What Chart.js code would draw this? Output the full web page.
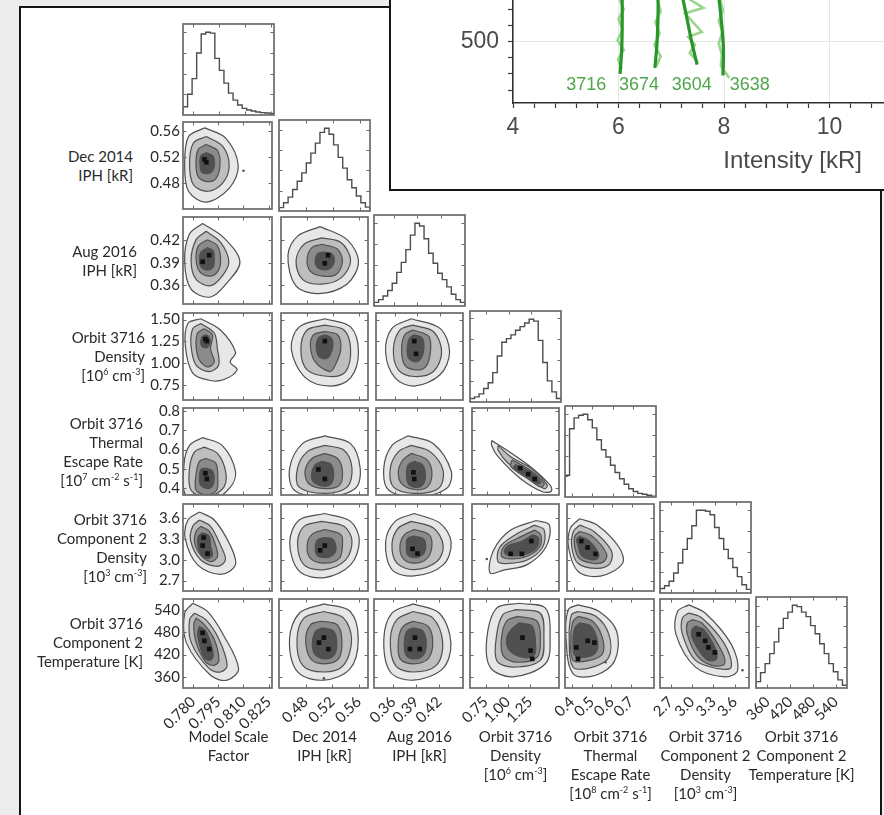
<!DOCTYPE html>
<html>
<head>
<meta charset="utf-8">
<title>Posterior corner plot</title>
<script src="https://cdn.jsdelivr.net/npm/chart.js@4.4.1/dist/chart.umd.min.js"></script>
<style>
  html, body { margin:0; padding:0; width:884px; height:815px; overflow:hidden; background:#ededed; }
  #sheet { position:absolute; left:19px; top:6px; width:863px; height:840px; background:#fff; border:2px solid #151515; box-sizing:border-box; }
  canvas.panel { position:absolute; z-index:1; }
  .vlabel { position:absolute; z-index:2; font-family:Lato, 'Open Sans', sans-serif; font-size:15px; line-height:19px; color:#2a2a2a; white-space:nowrap; }
  .vlabel sup { font-size:9px; line-height:0; vertical-align:6px; }
  #inset { position:absolute; left:389px; top:-10px; width:520px; height:201px; background:#fff; border:2px solid #151515; box-sizing:border-box; z-index:5; }
  #insetChart { position:absolute; left:391px; top:-59px; z-index:6; }
  #insetTitle { position:absolute; z-index:6; right:22px; top:146px; font-family:'Liberation Sans', Arial, sans-serif; font-size:24px; color:#4a4a4a; }
</style>
</head>
<body>
<div id="sheet"></div>
<div id="inset"></div>
<canvas id="insetChart" width="544" height="247" style="width:544px;height:247px"></canvas>
<div id="insetTitle">Intensity [kR]</div>
<script>
// ---------------- parameters of the fit ----------------
const titleY = [null,
  ['Dec 2014', 'IPH [kR]'],
  ['Aug 2016', 'IPH [kR]'],
  ['Orbit 3716', 'Density', '[10<sup>6</sup> cm<sup>-3</sup>]'],
  ['Orbit 3716', 'Thermal', 'Escape Rate', '[10<sup>7</sup> cm<sup>-2</sup> s<sup>-1</sup>]'],
  ['Orbit 3716', 'Component 2', 'Density', '[10<sup>3</sup> cm<sup>-3</sup>]'],
  ['Orbit 3716', 'Component 2', 'Temperature [K]']];
const titleX = [
  ['Model Scale', 'Factor'],
  ['Dec 2014', 'IPH [kR]'],
  ['Aug 2016', 'IPH [kR]'],
  ['Orbit 3716', 'Density', '[10<sup>6</sup> cm<sup>-3</sup>]'],
  ['Orbit 3716', 'Thermal', 'Escape Rate', '[10<sup>8</sup> cm<sup>-2</sup> s<sup>-1</sup>]'],
  ['Orbit 3716', 'Component 2', 'Density', '[10<sup>3</sup> cm<sup>-3</sup>]'],
  ['Orbit 3716', 'Component 2', 'Temperature [K]']];

// axis limits and tick values of each parameter
const axisMin = [0.774, 0.44, 0.335, 0.575, 0.365, 2.55, 330];
const axisMax = [0.827, 0.574, 0.451, 1.575, 0.815, 3.80, 570];
const xTickVals = [[0.780, 0.795, 0.810, 0.825], [0.48, 0.52, 0.56], [0.36, 0.39, 0.42],
  [0.75, 1.00, 1.25], [0.4, 0.5, 0.6, 0.7], [2.7, 3.0, 3.3, 3.6], [360, 420, 480, 540]];
const yTickVals = [[], [0.48, 0.52, 0.56], [0.36, 0.39, 0.42],
  [0.75, 1.00, 1.25, 1.50], [0.4, 0.5, 0.6, 0.7, 0.8], [2.7, 3.0, 3.3, 3.6], [360, 420, 480, 540]];
const tickDecimals = [3, 2, 2, 2, 1, 1, 0];

// ---------------- 1-D marginal histograms (20 bins, sample counts) ----------------
const histScaleFactor  = [99, 250, 440, 750, 980, 1000, 990, 685, 540, 385, 265, 180, 120, 80, 60, 48, 36, 29, 24, 20];
const histDec2014      = [41, 102, 171, 264, 366, 469, 591, 713, 836, 968, 1019, 946, 814, 660, 528, 385, 286, 184, 102, 48];
const histAug2016      = [44, 77, 121, 187, 275, 407, 528, 682, 858, 1001, 968, 814, 638, 517, 396, 319, 231, 143, 77, 44];
const histDensity      = [41, 61, 97, 162, 231, 352, 550, 715, 759, 803, 858, 902, 946, 990, 968, 737, 473, 253, 121, 41];
const histEscape       = [264, 825, 957, 990, 1001, 935, 836, 693, 572, 484, 385, 297, 220, 154, 99, 66, 44, 33, 22, 11];
const histComp2Density = [55, 88, 143, 242, 363, 528, 660, 814, 1001, 1001, 990, 946, 792, 660, 528, 418, 308, 198, 99, 44];
const histComp2Temp    = [77, 187, 297, 418, 561, 726, 847, 924, 1007, 990, 924, 869, 759, 660, 539, 418, 297, 198, 99, 33];

// ---------------- 2-D posteriors: density contours (outer -> inner), as x,y pairs ----------------
const lev_1_0 = [
  [.787,.565, .7994,.5492, .8069,.507, .8016,.4722, .7879,.4507, .7773,.4673, .775,.507, .7773,.5516],
  [.7879,.5516, .7976,.5367, .8015,.507, .7976,.4797, .7888,.4673, .7802,.4773, .7779,.5097, .7802,.5417],
  [.7879,.5393, .7947,.5294, .796,.507, .7937,.4872, .7888,.4822, .7831,.4896, .7817,.5097, .7831,.5318],
  [.7879,.5268, .7918,.5219, .7928,.512, .7918,.4995, .7888,.4945, .785,.4971, .7841,.5097, .7846,.5219]];
const core_1_0 = [.7879,.512, .7868,.5165];
const stray_1_0 = [.810,.499];

const lev_2_0 = [
  [.7857,.4424, .7984,.4232, .8079,.3913, .8003,.3635, .7904,.3443, .7788,.3547, .775,.3913, .7777,.4278],
  [.7878,.4319, .7963,.4174, .8013,.3913, .7973,.3721, .7904,.3594, .7818,.3678, .7788,.393, .7818,.4208],
  [.7886,.4208, .7945,.4127, .7964,.3913, .7941,.3764, .7896,.3721, .7838,.3785, .7818,.3953, .7832,.4127],
  [.7886,.4104, .7921,.4058, .7926,.3953, .7921,.3849, .7886,.3802, .7846,.3849, .7838,.393, .7846,.404]];
const core_2_0 = [.7857,.3913, .7896,.400];

const lev_2_1 = [
  [.5003,.4382, .5418,.4208, .5593,.3913, .5418,.3617, .4976,.3489, .4628,.3594, .4507,.40, .4655,.4255],
  [.5026,.4232, .5325,.4169, .5472,.393, .5325,.3698, .5026,.3614, .473,.3678, .4632,.393, .4755,.4147],
  [.5026,.4147, .5271,.4081, .5346,.3913, .5247,.3742, .505,.3721, .4853,.3785, .4802,.3953, .4878,.4104],
  [.507,.4041, .5177,.4023, .5223,.3933, .5177,.3837, .51,.3806, .4976,.3826, .4927,.3913, .4967,.4023]];
const core_2_1 = [.5074,.3892, .5124,.400];

const lev_3_0 = [
  [.7846,1.509, .7963,1.38, .8053,1.125, .8021,1.012, .8062,.921, .7984,.81, .7904,.799, .7798,.885, .7754,1.195, .7769,1.455],
  [.7846,1.455, .7926,1.345, .7945,1.16, .7952,.975, .7896,.902, .7818,.975, .7788,1.195, .7798,1.395],
  [.7867,1.395, .7915,1.325, .7904,1.16, .7926,1.012, .7886,.955, .7838,1.031, .7818,1.195, .7827,1.345],
  [.7876,1.325, .7894,1.305, .7902,1.252, .7894,1.195, .7876,1.175, .7851,1.195, .7846,1.252, .7855,1.305]];
const core_3_0 = [.7882,1.252, .7873,1.275];

const lev_3_1 = [
  [.5075,1.509, .5472,1.415, .5593,1.125, .5472,.829, .5173,.735, .4779,.829, .4558,1.159, .4681,1.415],
  [.5075,1.435, .537,1.38, .5472,1.16, .5396,.902, .515,.845, .4802,.921, .4706,1.16, .4802,1.38],
  [.5075,1.362, .5271,1.325, .5321,1.16, .5223,.957, .515,.902, .4927,1.012, .4853,1.195, .4903,1.325],
  [.5075,1.325, .5173,1.288, .5199,1.195, .515,1.085, .5075,1.049, .4976,1.085, .4941,1.195, .4976,1.288]];
const core_3_1 = [.5075,1.252];

const lev_3_2 = [
  [.3819,1.509, .4203,1.398, .4331,1.123, .4203,.865, .386,.735, .3605,.829, .3478,1.123, .3563,1.398],
  [.3841,1.435, .4116,1.362, .4225,1.123, .4116,.902, .386,.845, .3648,.921, .3582,1.16, .367,1.38],
  [.3841,1.38, .4054,1.305, .4075,1.123, .4011,.957, .3884,.921, .3733,.975, .3691,1.16, .3733,1.325],
  [.386,1.325, .3968,1.288, .3988,1.16, .3947,1.049, .3872,1.012, .3779,1.065, .3768,1.195, .3798,1.288]];
const core_3_2 = [.386,1.252, .3884,1.105];

const lev_4_0 = [
  [.7857,.662, .7973,.6215, .8052,.4892, .8022,.4055, .7904,.3335, .776,.356, .7746,.5225, .7779,.6215],
  [.7867,.6125, .7945,.5801, .7993,.4892, .7984,.4055, .7886,.356, .7788,.3898, .7779,.5045, .7809,.5882],
  [.7876,.554, .7935,.5306, .7947,.455, .794,.3898, .7886,.365, .7818,.3898, .7818,.473, .7838,.5387],
  [.7876,.5045, .7915,.4892, .7926,.455, .7915,.41, .7886,.3983, .7846,.4145, .7838,.4478, .7846,.4973]];
const core_4_0 = [.7882,.4478, .7873,.4775];

const lev_4_1 = [
  [.5075,.671, .5472,.6305, .5619,.5045, .5543,.3983, .5075,.356, .4606,.3898, .4534,.5045, .473,.6305],
  [.5075,.6215, .537,.5968, .5493,.5045, .5418,.4055, .5075,.3731, .4681,.4055, .4655,.5045, .4802,.5882],
  [.5075,.5801, .5271,.554, .5346,.4892, .5298,.4145, .5075,.3983, .4829,.4235, .477,.4892, .4878,.554],
  [.503,.5387, .5173,.5225, .5213,.464, .5173,.4235, .5075,.41, .4903,.4312, .4869,.473, .4927,.5225]];
const core_4_1 = [.4976,.4973, .5075,.4478];

const lev_4_2 = [
  [.3779,.671, .4116,.6305, .4352,.4892, .429,.3983, .3904,.356, .3521,.3898, .3454,.5045, .3563,.6215],
  [.3819,.6215, .4075,.5882, .4246,.4892, .4182,.3983, .386,.3731, .3584,.4055, .3541,.5045, .3648,.5882],
  [.3819,.5801, .4032,.5468, .4096,.473, .4032,.4055, .386,.3934, .3691,.4235, .3648,.4892, .371,.5468],
  [.386,.5387, .3968,.5225, .4011,.464, .3968,.4145, .3872,.4046, .3779,.4235, .3756,.473, .3779,.5225]];
const core_4_2 = [.386,.4478, .3849,.482];

const lev_4_3 = [
  [.801,.6463, .947,.6049, 1.239,.5135, 1.475,.4145, 1.487,.3848, 1.385,.3817, 1.13,.4505, .875,.563, .801,.6215],
  [.875,.6215, 1.02,.563, 1.275,.4973, 1.44,.4145, 1.405,.3983, 1.239,.4478, .985,.5315, .875,.5968],
  [1.035,.5468, 1.261,.4892, 1.405,.4235, 1.365,.4064, 1.221,.4478, 1.02,.5135],
  [1.075,.5225, 1.261,.4807, 1.367,.4312, 1.33,.423, 1.221,.4559, 1.055,.5045]];
const core_4_3 = [1.13,.5045, 1.221,.473, 1.295,.4478];

const lev_5_0 = [
  [.7838,3.685, .7926,3.57, .8022,3.203, .8052,2.925, .7964,2.788, .7827,2.925, .7754,3.295, .7769,3.57],
  [.7838,3.57, .7904,3.479, .7964,3.203, .7993,2.996, .7945,2.904, .7846,2.996, .7785,3.273, .7798,3.479],
  [.7846,3.479, .7896,3.409, .7935,3.203, .7945,3.041, .7904,2.973, .7846,3.065, .7809,3.25, .7818,3.409],
  [.7857,3.388, .7896,3.338, .7904,3.203, .7915,3.065, .7886,3.019, .7846,3.088, .7827,3.225, .7832,3.338]];
const core_5_0 = [.7857,3.203, .7886,3.088, .7863,3.318];

const lev_5_1 = [
  [.5075,3.663, .5472,3.55, .5606,3.271, .5472,2.925, .5075,2.743, .4681,2.835, .4534,3.25, .4681,3.57],
  [.5026,3.55, .537,3.479, .5493,3.271, .5396,2.996, .5075,2.858, .4755,2.925, .4655,3.25, .4755,3.479],
  [.5075,3.433, .5321,3.363, .5346,3.203, .5298,3.019, .5075,2.95, .4853,3.019, .4802,3.203, .4878,3.363],
  [.5075,3.318, .5199,3.295, .5248,3.156, .5199,3.065, .5075,3.028, .4952,3.065, .4927,3.18, .4963,3.285]];
const core_5_1 = [.5075,3.203, .5003,3.134];

const lev_5_2 = [
  [.386,3.663, .4203,3.525, .4352,3.25, .4246,2.925, .386,2.766, .3563,2.858, .3478,3.25, .3605,3.55],
  [.3819,3.55, .4116,3.455, .4246,3.203, .4162,2.973, .386,2.858, .3628,2.95, .3563,3.225, .3648,3.455],
  [.386,3.433, .4054,3.363, .4096,3.203, .4032,3.019, .386,2.95, .371,3.019, .367,3.203, .3733,3.363],
  [.386,3.34, .3988,3.295, .4011,3.166, .3968,3.065, .386,3.028, .3768,3.075, .3756,3.203, .3768,3.304]];
const core_5_2 = [.3837,3.156, .3904,3.088];

const lev_5_3 = [
  [1.312,3.563, 1.465,3.496, 1.422,3.175, 1.203,2.925, .947,2.854, .783,2.808, .82,3.129, 1.02,3.425],
  [1.295,3.496, 1.405,3.425, 1.385,3.175, 1.203,2.991, .985,2.945, .875,2.969, .892,3.175, 1.075,3.359],
  [1.295,3.425, 1.365,3.359, 1.349,3.175, 1.185,3.038, .985,3.013, .911,3.06, .947,3.198, 1.093,3.304],
  [1.275,3.359, 1.341,3.313, 1.32,3.175, 1.185,3.075, 1.002,3.06, .947,3.106, .985,3.198, 1.13,3.258]];
const core_5_3 = [1.257,3.268, 1.148,3.083, 1.02,3.083];
const stray_5_3 = [.745,3.01];

const lev_5_4 = [
  [.4307,3.588, .5225,3.496, .635,3.175, .6521,2.945, .5374,2.763, .4226,2.83, .3731,3.175, .3817,3.45],
  [.4307,3.496, .5045,3.405, .5945,3.129, .5869,2.945, .5207,2.875, .4226,2.945, .3898,3.175, .3979,3.405],
  [.4307,3.405, .4955,3.338, .5702,3.083, .554,2.969, .5045,2.945, .4307,3.013, .4055,3.175, .4055,3.338],
  [.4307,3.338, .4798,3.268, .5293,3.083, .5212,3.013, .4897,3.0, .4388,3.06, .4226,3.198, .4145,3.29]];
const core_5_4 = [.4388,3.268, .5126,3.083, .4717,3.175];

const lev_6_0 = [
  [.7798,558.5, .7886,536.4, .7984,470.4, .8071,382.1, .8003,351.1, .7904,364.3, .776,452.4, .775,531.6],
  [.7809,531.6, .7876,514.3, .7954,461.5, .8003,391, .7964,373.2, .7896,382.1, .7789,452.4, .7779,514.3],
  [.7818,518.9, .7867,501.1, .7926,461.5, .7954,404.4, .7926,391, .7876,399.6, .7818,452.4, .7804,501.1],
  [.7838,496.8, .7876,483.6, .7904,452.4, .792,417.4, .7899,404.4, .7865,413, .7838,448.3, .7827,478.8]];
const core_6_0 = [.7867,457.2, .7896,435.1, .7857,478.8];

const lev_6_1 = [
  [.5075,556.8, .5472,536.4, .5593,461.5, .5472,382.1, .5075,351.1, .4681,373.2, .4558,461.5, .4706,531.6],
  [.5075,536.4, .537,518.9, .5493,461.5, .537,391, .5075,373.2, .4755,391, .4671,461.5, .4779,518.9],
  [.5026,510, .5271,501.1, .5346,461.5, .5298,409.2, .5075,395.3, .4878,408.5, .4802,461.5, .4878,501.1],
  [.505,492.2, .5223,483.6, .5271,448.3, .5223,417.4, .5075,408.5, .4936,421.7, .4903,452.4, .4952,483.6]];
const core_6_1 = [.5144,434.9, .5003,452.4, .5075,465.8];
const stray_6_1 = [.5075,356];

const lev_6_2 = [
  [.386,556.8, .4203,531.6, .4352,452.4, .4246,382.1, .386,351.1, .3563,373.2, .3478,461.5, .3584,531.6],
  [.386,536.4, .4116,518.9, .4246,452.4, .4162,391, .386,373.2, .3628,391, .3563,461.5, .3648,514.3],
  [.386,510, .4054,496.8, .4116,452.4, .4054,408.5, .386,395.3, .3691,408.5, .367,461.5, .3733,496.8],
  [.386,492.2, .3988,483.6, .4032,448.3, .3988,417.4, .3872,408.5, .3768,418.8, .3744,452.4, .3779,483.6]];
const core_6_2 = [.3884,465.8, .3819,435.1, .3946,435.1];

const lev_6_3 = [
  [1.13,558.5, 1.422,545.3, 1.475,465.8, 1.422,395.3, 1.055,360, .801,386.4, .765,465.8, .875,545.3],
  [1.093,541.2, 1.365,531.6, 1.405,465.8, 1.365,404.4, 1.055,386.4, .875,404.4, .875,474, .945,527.8],
  [1.111,523.2, 1.33,510, 1.365,457.2, 1.33,413, 1.093,399.6, .947,417.4, .929,465.8, .985,510],
  [1.13,505.7, 1.275,496.8, 1.312,448.3, 1.295,417.4, 1.165,413, 1.02,430.8, .985,462, 1.039,488.4]];
const core_6_3 = [1.257,430.8, 1.275,408.5, 1.165,465.8];

const lev_6_4 = [
  [.4307,554.2, .5374,536.4, .626,483.6, .617,404.4, .5212,364.3, .4055,368.9, .37,465.8, .3817,541.2],
  [.4307,536.4, .5212,523.2, .5869,474.7, .5869,413, .5045,386.4, .4055,386.4, .3862,465.8, .3979,527.8],
  [.4307,523.2, .5045,510, .554,465.8, .554,421.7, .4883,404.4, .4055,404.4, .3947,465.8, .4055,510],
  [.4388,505.7, .4955,496.8, .5293,457.2, .5212,426, .4717,413, .4145,417.4, .4055,457.2, .4145,492.2]];
const core_6_4 = [.4226,439.4, .4798,457.2, .4307,408.5, .5135,452.4];
const stray_6_4 = [.570,399.6];

const lev_6_5 = [
  [2.956,554.2, 3.184,532.1, 3.55,448.3, 3.64,377.8, 3.458,360, 3.048,386.4, 2.774,474.7, 2.796,536.4],
  [2.956,532.1, 3.139,518.9, 3.458,448.3, 3.55,386.4, 3.366,382.1, 3.048,404.4, 2.865,474.7, 2.865,518.9],
  [3.001,514.3, 3.139,505.2, 3.39,439.4, 3.458,395.3, 3.275,391, 3.07,417.4, 2.934,474.7, 2.934,505.2],
  [3.048,496.8, 3.161,488.4, 3.321,439.4, 3.344,408.5, 3.23,404.4, 3.116,426, 3.001,465.8, 3.001,488.4]];
const core_6_5 = [3.093,474.7, 3.23,439.4, 3.321,426, 3.184,457.2];
const stray_6_5 = [3.709,378];

// ---------------- inset: brightness profiles of four orbits ----------------
const orbitIds = ['3716', '3674', '3604', '3638'];
const model3716 = [[6.03,460], [6.06,490], [6.07,520], [6.07,556]];
const model3674 = [[6.69,467.6], [6.73,498], [6.75,534.6], [6.75,556]];
const model3604 = [[7.49,471.6], [7.38,502], [7.28,534.6], [7.21,556]];
const model3638 = [[7.98,458], [7.99,490], [7.95,526], [7.90,556]];
const obs3716 = [[6.0,556], [6.1,540], [6.0,528], [6.08,515], [5.98,502], [6.1,490], [5.99,478], [6.06,466]];
const obs3674 = [[6.72,556], [6.8,538], [6.7,524], [6.78,510], [6.68,496], [6.8,482], [6.72,470]];
const obs3604 = [[7.26,556], [7.61,542], [7.26,535], [7.58,512], [7.32,506], [7.45,496], [7.35,486], [7.51,474]];
const obs3638 = [[7.92,556], [7.98,538], [7.9,526], [7.97,512], [7.9,498], [7.96,484], [7.94,470], [8.1,455]];

// ================= drawing =================
Chart.defaults.font.family = "Lato, 'Open Sans', sans-serif";
const PANEL = 91;
const colLeft = [183, 279, 374, 470, 565, 660, 756];
const rowTop  = [24, 120, 215, 311, 406, 502, 597];
const yTitleRight = [0, 133, 137, 145, 143, 147, 143];

const hists = [histScaleFactor, histDec2014, histAug2016, histDensity, histEscape, histComp2Density, histComp2Temp];
const pairLevels = {'1,0':lev_1_0,'2,0':lev_2_0,'2,1':lev_2_1,'3,0':lev_3_0,'3,1':lev_3_1,'3,2':lev_3_2,
  '4,0':lev_4_0,'4,1':lev_4_1,'4,2':lev_4_2,'4,3':lev_4_3,'5,0':lev_5_0,'5,1':lev_5_1,'5,2':lev_5_2,'5,3':lev_5_3,'5,4':lev_5_4,
  '6,0':lev_6_0,'6,1':lev_6_1,'6,2':lev_6_2,'6,3':lev_6_3,'6,4':lev_6_4,'6,5':lev_6_5};
const pairCores = {'1,0':core_1_0,'2,0':core_2_0,'2,1':core_2_1,'3,0':core_3_0,'3,1':core_3_1,'3,2':core_3_2,
  '4,0':core_4_0,'4,1':core_4_1,'4,2':core_4_2,'4,3':core_4_3,'5,0':core_5_0,'5,1':core_5_1,'5,2':core_5_2,'5,3':core_5_3,'5,4':core_5_4,
  '6,0':core_6_0,'6,1':core_6_1,'6,2':core_6_2,'6,3':core_6_3,'6,4':core_6_4,'6,5':core_6_5};
const pairStray = {'1,0':stray_1_0,'5,3':stray_5_3,'6,1':stray_6_1,'6,4':stray_6_4,'6,5':stray_6_5};

// grey fill inside each contour level, lightest outside
const shade = ['#e7e7e7', '#bebebe', '#8b8b8b', '#505050'];

function pairsToPoints(flat) {
  const pts = [];
  for (let i = 0; i < flat.length; i += 2) pts.push({x: flat[i], y: flat[i + 1]});
  return pts;
}

// frame of each panel plus small inward tick marks on all four sides
const frameTicks = new Map();
const framePlugin = {
  id: 'panelFrame',
  afterDatasetsDraw(chart) {
    const spec = frameTicks.get(chart.canvas);
    const {ctx, chartArea: a} = chart;
    const sx = chart.scales.x, sy = chart.scales.y;
    ctx.save();
    ctx.strokeStyle = '#6a6a6a';
    ctx.lineWidth = 1;
    ctx.beginPath();
    spec.xt.forEach(v => {
      const p = Math.round(sx.getPixelForValue(v)) + 0.5;
      ctx.moveTo(p, a.bottom); ctx.lineTo(p, a.bottom - 3.5);
      ctx.moveTo(p, a.top); ctx.lineTo(p, a.top + 3.5);
    });
    spec.yt.forEach(v => {
      const p = Math.round(sy.getPixelForValue(v)) + 0.5;
      ctx.moveTo(a.left, p); ctx.lineTo(a.left + 3.5, p);
      ctx.moveTo(a.right, p); ctx.lineTo(a.right - 3.5, p);
    });
    ctx.stroke();
    ctx.lineWidth = 1.7;
    ctx.strokeRect(a.left, a.top, a.right - a.left, a.bottom - a.top);
    ctx.restore();
  }
};

function buildPanel(r, c) {
  const showY = c === 0 && r > 0;
  const showX = r === 6;
  const yW = showY ? 44 : 0;
  const xH = showX ? 52 : 0;
  const pad = 2;
  const padL = pad + (showX && !showY ? 30 : 0);
  const w = padL + yW + PANEL + pad;
  const h = pad + PANEL + xH + pad;
  const cv = document.createElement('canvas');
  cv.className = 'panel';
  cv.width = w; cv.height = h;
  cv.style.width = w + 'px'; cv.style.height = h + 'px';
  cv.style.left = (colLeft[c] - padL - yW) + 'px';
  cv.style.top = (rowTop[r] - pad) + 'px';
  document.body.appendChild(cv);

  const datasets = [];
  let yMin, yMax, yFrameTicks;
  if (r === c) {
    // marginal histogram drawn as a step outline
    const counts = hists[c];
    const lo = axisMin[c], hi = axisMax[c], nb = counts.length;
    const pts = [{x: lo, y: 0}];
    counts.forEach((n, i) => pts.push({x: lo + i * (hi - lo) / nb, y: n}));
    pts.push({x: hi, y: 0});
    datasets.push({data: pts, stepped: 'before', borderColor: '#4d4d4d', borderWidth: 1.4, pointRadius: 0, fill: false, clip: 0});
    yMin = 0; yMax = 1.1 * Math.max(...counts);
    yFrameTicks = [250, 500, 750, 1000];
  } else {
    const key = r + ',' + c;
    pairLevels[key].forEach((flat, k) => {
      const pts = pairsToPoints(flat);
      pts.push({x: pts[0].x, y: pts[0].y});
      datasets.push({data: pts, fill: 'shape', backgroundColor: shade[k], borderColor: '#505050',
        borderWidth: 1.2, tension: 0.34, pointRadius: 0, order: 10 - k, clip: 0});
    });
    datasets.push({data: pairsToPoints(pairCores[key]), showLine: false, pointStyle: 'rect', pointRadius: 3.3,
      backgroundColor: '#111111', borderWidth: 0, order: 1, clip: 0});
    if (pairStray[key]) {
      datasets.push({data: pairsToPoints(pairStray[key]), showLine: false, pointRadius: 1.3,
        backgroundColor: '#555', borderWidth: 0, order: 0, clip: 0});
    }
    yMin = axisMin[r]; yMax = axisMax[r];
    yFrameTicks = yTickVals[r];
  }
  frameTicks.set(cv, {xt: xTickVals[c], yt: yFrameTicks});

  const labelFont = {family: "Lato, 'Open Sans', sans-serif", size: 15};
  new Chart(cv, {
    type: 'line',
    data: {datasets},
    options: {
      responsive: false, animation: false, events: [],
      layout: {padding: {left: padL, right: pad, top: pad, bottom: pad}},
      plugins: {legend: {display: false}, tooltip: {enabled: false}},
      scales: {
        x: {
          type: 'linear', min: axisMin[c], max: axisMax[c], bounds: 'data', display: showX,
          afterBuildTicks: s => { s.ticks = xTickVals[c].map(v => ({value: v})); },
          afterFit: s => { s.height = xH; s.paddingLeft = 0; s.paddingRight = 0; },
          grid: {display: false, drawTicks: false}, border: {display: false},
          ticks: {autoSkip: false, minRotation: 45, maxRotation: 45, padding: 5, color: '#2a2a2a', font: labelFont,
            callback: v => Number(v).toFixed(tickDecimals[c])}
        },
        y: {
          type: 'linear', min: yMin, max: yMax, bounds: 'data', display: showY,
          afterBuildTicks: s => { s.ticks = yTickVals[r].map(v => ({value: v})); },
          afterFit: s => { s.width = yW; s.paddingTop = 0; s.paddingBottom = 0; },
          grid: {display: false, drawTicks: false}, border: {display: false},
          ticks: {autoSkip: false, padding: 3, color: '#2a2a2a', font: labelFont,
            callback: v => Number(v).toFixed(tickDecimals[r])}
        }
      }
    },
    plugins: [framePlugin]
  });
}

for (let r = 0; r < 7; r++) for (let c = 0; c <= r; c++) buildPanel(r, c);

// parameter names beside the rows and under the columns
for (let r = 1; r < 7; r++) {
  const d = document.createElement('div');
  d.className = 'vlabel';
  d.style.textAlign = 'right';
  d.innerHTML = titleY[r].join('<br>');
  d.style.right = (884 - yTitleRight[r]) + 'px';
  d.style.top = (rowTop[r] + PANEL / 2 - titleY[r].length * 19 / 2) + 'px';
  document.body.appendChild(d);
}
for (let c = 0; c < 7; c++) {
  const d = document.createElement('div');
  d.className = 'vlabel';
  d.style.textAlign = 'center';
  d.style.width = '140px';
  d.style.left = (colLeft[c] + PANEL / 2 - 70) + 'px';
  d.style.top = '727px';
  d.innerHTML = titleX[c].join('<br>');
  document.body.appendChild(d);
}

// ---------------- inset chart ----------------
const xMinorTicks = [];
for (let i = 0; i <= 20; i++) xMinorTicks.push(Math.round((4 + 0.4 * i) * 10) / 10);
const yMinorTicks = [];
for (let v = 440; v <= 600; v += 20) yMinorTicks.push(v);
const isMajorX = v => Math.abs(v / 2 - Math.round(v / 2)) < 1e-6;
const isMajorY = v => v % 100 === 0;
const tagX = [5.39, 6.39, 7.39, 8.49];
const tagY = 446;

const orbitTags = {
  id: 'orbitTags',
  afterDatasetsDraw(chart) {
    const {ctx} = chart;
    const sx = chart.scales.x, sy = chart.scales.y;
    ctx.save();
    ctx.font = "18px 'Liberation Sans', Arial, sans-serif";
    ctx.fillStyle = '#4ea64a';
    ctx.textAlign = 'center';
    ctx.textBaseline = 'middle';
    orbitIds.forEach((id, i) => ctx.fillText(id, sx.getPixelForValue(tagX[i]), sy.getPixelForValue(tagY)));
    ctx.restore();
  }
};

const toXY = arr => arr.map(p => ({x: p[0], y: p[1]}));
const obsSets = [obs3716, obs3674, obs3604, obs3638].map(a => ({
  data: toXY(a), borderColor: '#9ad58e', borderWidth: 2.6, pointRadius: 0, tension: 0, order: 2, fill: false}));
const modelSets = [model3716, model3674, model3604, model3638].map(a => ({
  data: toXY(a), borderColor: '#2a962a', borderWidth: 3.2, pointRadius: 0, tension: 0.4, order: 1, fill: false}));

const insetFont = {family: "'Liberation Sans', Arial, sans-serif", size: 23};
new Chart(document.getElementById('insetChart'), {
  type: 'line',
  data: {datasets: [...obsSets, ...modelSets]},
  options: {
    responsive: false, animation: false, events: [],
    layout: {padding: {top: 20, left: 0, right: 0, bottom: 0}},
    plugins: {legend: {display: false}, tooltip: {enabled: false}},
    scales: {
      x: {
        type: 'linear', min: 4, max: 12, bounds: 'data',
        afterBuildTicks: s => { s.ticks = xMinorTicks.map(v => ({value: v})); },
        afterFit: s => { s.height = 85; s.paddingLeft = 0; s.paddingRight = 0; },
        grid: {color: ctx => (ctx.tick && isMajorX(ctx.tick.value)) ? '#e6e6e6' : 'rgba(0,0,0,0)',
          tickColor: '#3a3a3a', tickLength: 5, lineWidth: 1, tickWidth: 1.2},
        border: {color: '#2f2f2f', width: 1.5},
        ticks: {autoSkip: false, minRotation: 0, maxRotation: 0, padding: 6, color: '#4a4a4a', font: insetFont,
          callback: v => isMajorX(v) ? String(Math.round(v)) : ''}
      },
      y: {
        type: 'linear', min: 424, max: 600, bounds: 'data',
        afterBuildTicks: s => { s.ticks = yMinorTicks.map(v => ({value: v})); },
        afterFit: s => { s.width = 122; s.paddingTop = 0; s.paddingBottom = 0; },
        grid: {color: ctx => (ctx.tick && isMajorY(ctx.tick.value)) ? '#e6e6e6' : 'rgba(0,0,0,0)',
          tickColor: '#3a3a3a', tickLength: 5, lineWidth: 1, tickWidth: 1.2},
        border: {color: '#2f2f2f', width: 1.5},
        ticks: {autoSkip: false, padding: 9, color: '#4a4a4a', font: insetFont,
          callback: v => isMajorY(v) ? String(v) : ''}
      }
    }
  },
  plugins: [orbitTags]
});
</script>
</body>
</html>
